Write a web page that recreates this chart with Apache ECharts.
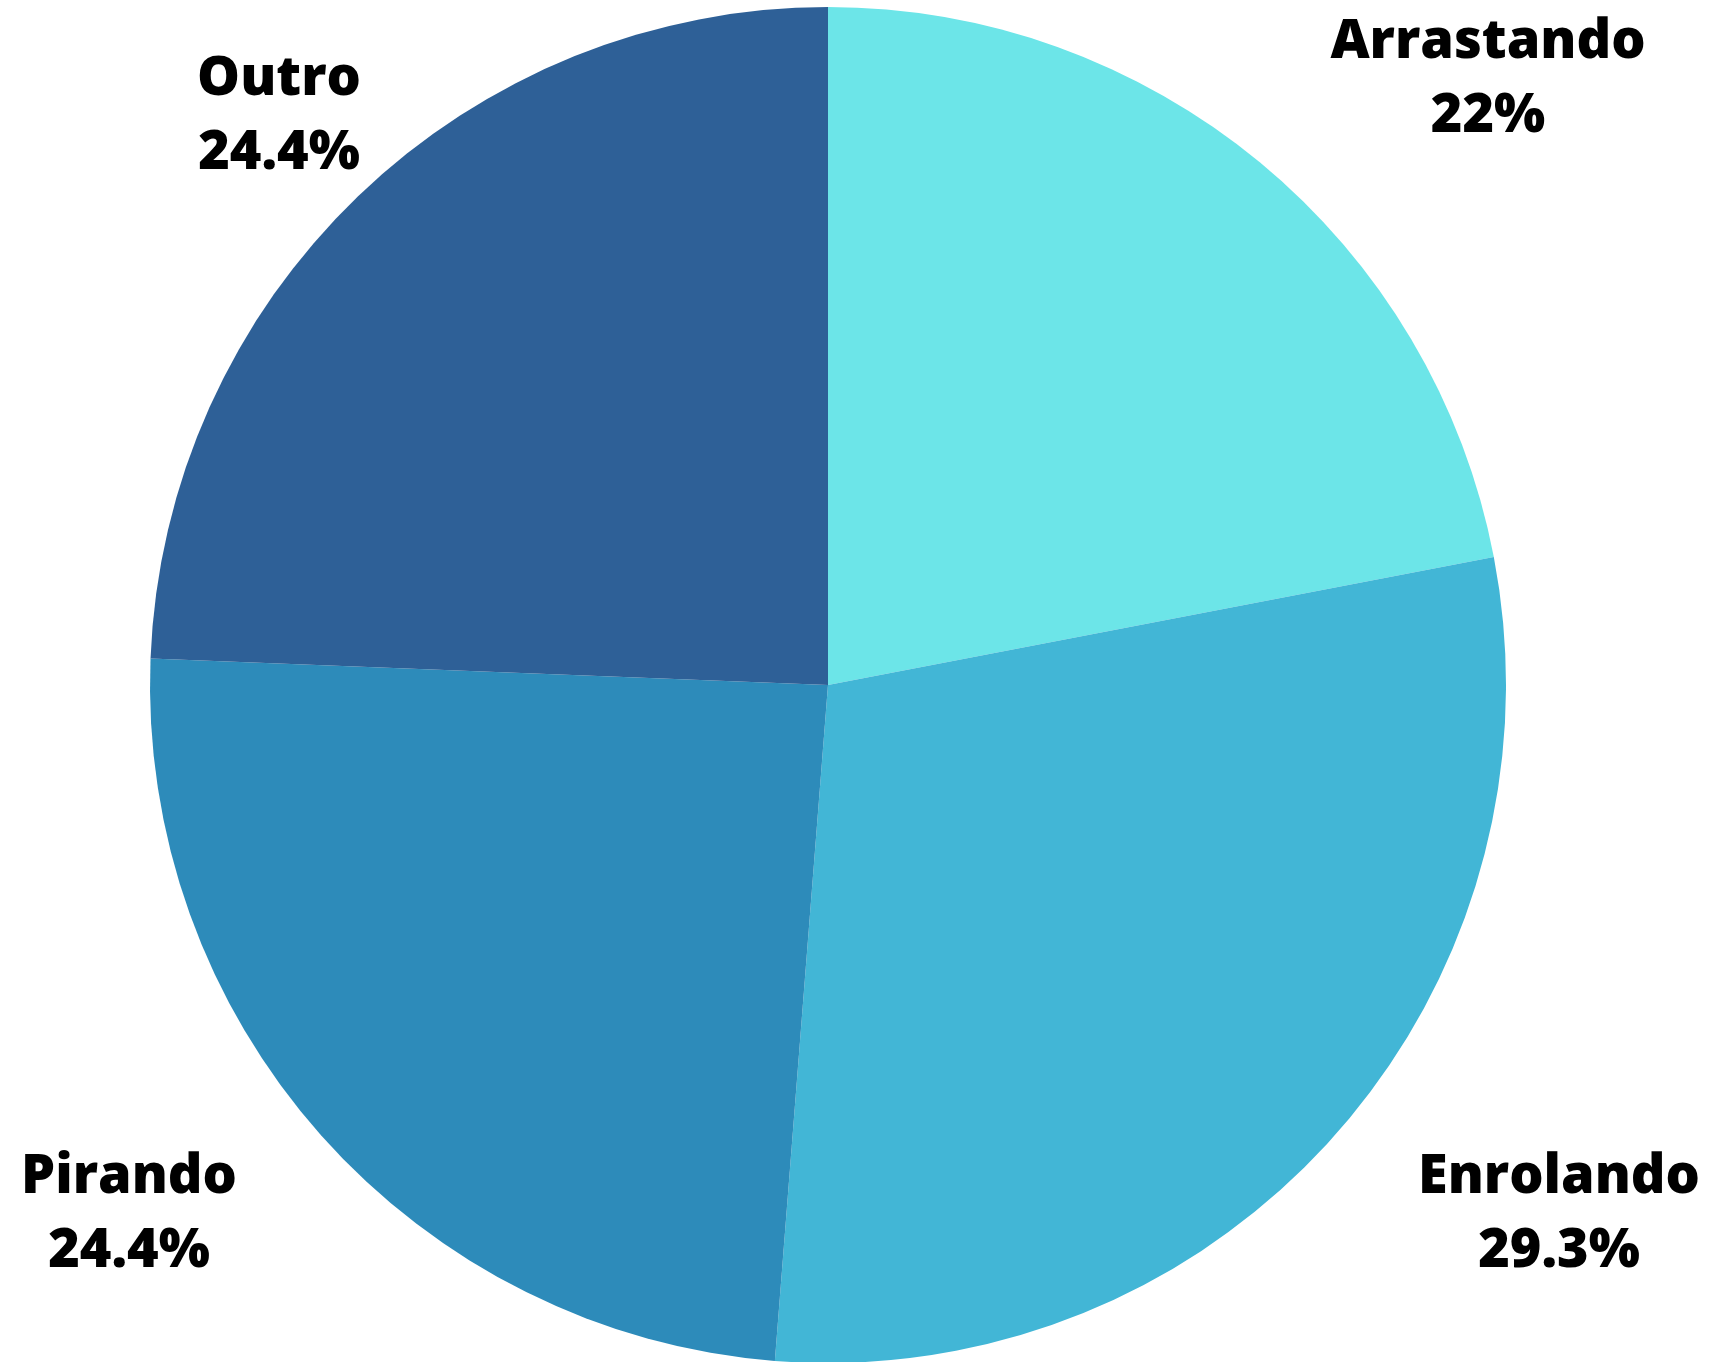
<!DOCTYPE html>
<html>
<head>
<meta charset="utf-8">
<script src="https://cdn.jsdelivr.net/npm/echarts@6/dist/echarts.min.js"></script>
<style>
html,body{margin:0;padding:0;background:#ffffff;}
#chart{width:1736px;height:1362px;}
</style>
</head>
<body>
<div id="chart"></div>
<script>
const categories = ['Arrastando', 'Enrolando', 'Pirando', 'Outro'];
const values = [22, 29.3, 24.4, 24.4];
const labelTexts = ['22%', '29.3%', '24.4%', '24.4%'];
const colors = ['#6CE5E8', '#42B6D6', '#2D8BBA', '#2E6097'];

const labelPos = [[1488, 80], [1559, 1215], [129, 1215], [279, 117]];

const chart = echarts.init(document.getElementById('chart'));
chart.setOption({
  backgroundColor: '#ffffff',
  animation: false,
  series: [{
    type: 'pie',
    center: [828, 685],
    radius: 678,
    startAngle: 90,
    clockwise: true,
    data: categories.map((c, i) => ({ name: c, value: values[i], itemStyle: { color: colors[i] } })),
    label: {
      show: true,
      position: 'outside',
      formatter: p => p.name + '\n' + labelTexts[p.dataIndex],
      fontFamily: 'Open Sans',
      fontWeight: 800,
      fontSize: 54,
      lineHeight: 74,
      color: '#000000',
      align: 'center'
    },
    labelLine: { show: false },
    labelLayout: p => ({
      x: labelPos[p.dataIndex][0],
      y: labelPos[p.dataIndex][1],
      align: 'center',
      verticalAlign: 'middle'
    }),
    itemStyle: { borderWidth: 0 },
    emphasis: { disabled: true }
  }]
});
</script>
</body>
</html>
